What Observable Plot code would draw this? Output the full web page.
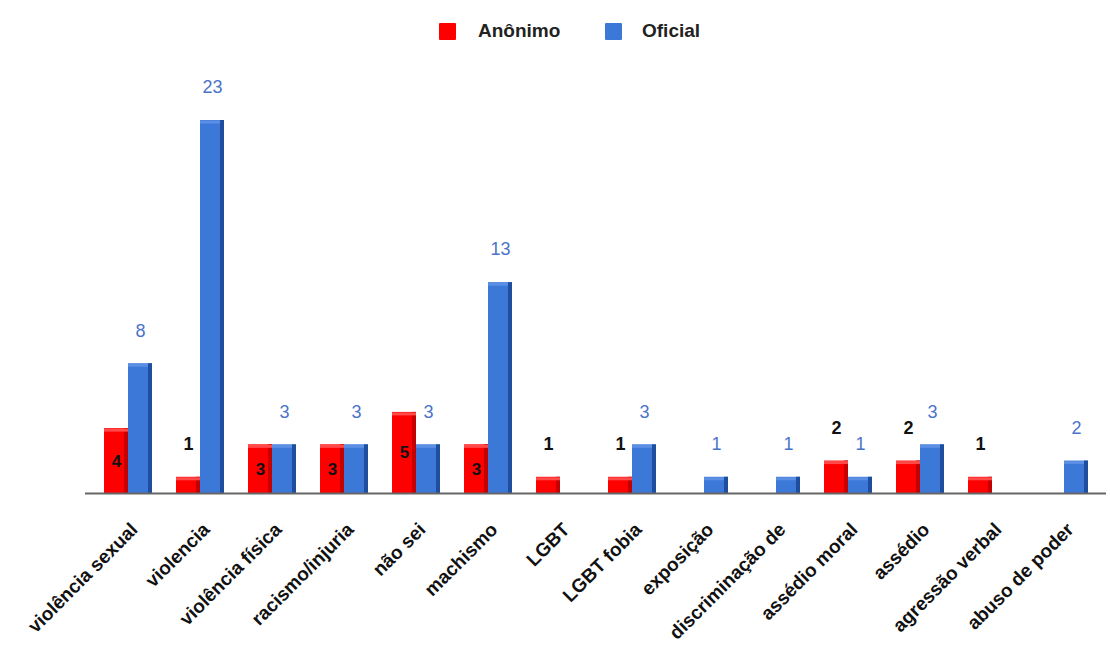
<!DOCTYPE html>
<html><head><meta charset="utf-8">
<script src="https://cdn.jsdelivr.net/npm/d3@7"></script>
<script src="https://cdn.jsdelivr.net/npm/@observablehq/plot@0.6"></script>
<style>
body{margin:0;background:#fff;font-family:"Liberation Sans",Arial,sans-serif;}
#legend{position:relative;height:50px;width:1110px;}
.sw{position:absolute;width:17px;height:17px;top:23px;border-radius:1px;}
.lt{position:absolute;top:20px;font-size:19px;font-weight:bold;color:#222;}
#chart svg g[aria-label="x-axis tick label"] text{font-weight:bold;}
</style></head><body>
<div id="legend">
 <div class="sw" style="left:439px;background:#ff0000"></div><div class="lt" style="left:478px">Anônimo</div>
 <div class="sw" style="left:605px;background:#3c78d8"></div><div class="lt" style="left:642px">Oficial</div>
</div>
<div id="chart"></div>
<script>
const categories = ["violência sexual","violencia","violência física","racismo/injuria","não sei","machismo","LGBT","LGBT fobia","exposição","discriminação de","assédio moral","assédio","agressão verbal","abuso de poder"];
const seriesNames = ["Anônimo","Oficial"];
const anonimo = [4,1,3,3,5,3,1,1,0,0,2,2,1,0];
const oficial = [8,23,3,3,3,13,0,3,1,1,1,3,0,2];

const rows = categories.flatMap((c,i)=>[
  {cat:c, serie:seriesNames[0], value:anonimo[i]},
  {cat:c, serie:seriesNames[1], value:oficial[i]}
]);
const an = rows.filter(d=>d.serie===seriesNames[0] && d.value>0);
const of = rows.filter(d=>d.serie===seriesNames[1] && d.value>0);

const chart = Plot.plot({
  width:1110, height:601,
  marginLeft:85, marginRight:4, marginTop:70, marginBottom:158,
  x:{domain:categories, paddingInner:0.34, paddingOuter:0.2},
  y:{domain:[0,23], axis:null},
  style:{fontFamily:"'Liberation Sans', Arial, sans-serif", background:"white", color:"#111"},
  marks:[
    Plot.barY(an,{x:"cat", y:"value", fill:"#ff0000", insetRight:24}),
    Plot.barY(an,{x:"cat", y:"value", fill:"#c40000", insetLeft:20, insetRight:24}),
    Plot.tickY(an,{x:"cat", y:"value", stroke:"#ff4a4a", strokeWidth:3, dy:1.5, insetRight:24}),
    Plot.barY(of,{x:"cat", y:"value", fill:"#3c78d8", insetLeft:24}),
    Plot.barY(of,{x:"cat", y:"value", fill:"#1f4e9e", insetLeft:44}),
    Plot.tickY(of,{x:"cat", y:"value", stroke:"#5b8fe6", strokeWidth:3, dy:1.5, insetLeft:24, insetRight:4}),
    Plot.ruleY([0],{stroke:"#666", strokeWidth:2}),
    Plot.text(an.filter(d=>d.value>=3),{x:"cat", y:d=>d.value/2, text:"value", dx:-12, fill:"#111", fontWeight:"bold", fontSize:17}),
    Plot.text(an.filter(d=>d.value<3),{x:"cat", y:"value", text:"value", dx:-12, dy:-33, fill:"#111", fontWeight:"bold", fontSize:18}),
    Plot.text(of,{x:"cat", y:"value", text:"value", dx:12, dy:-33, fill:"#4a74c9", fontSize:18}),
    Plot.axisX({tickRotate:-45, tickSize:0, tickPadding:33, fontSize:19, fontWeight:"bold", label:null, dx:6})
  ]
});
document.getElementById("chart").appendChild(chart);
</script>
</body></html>
